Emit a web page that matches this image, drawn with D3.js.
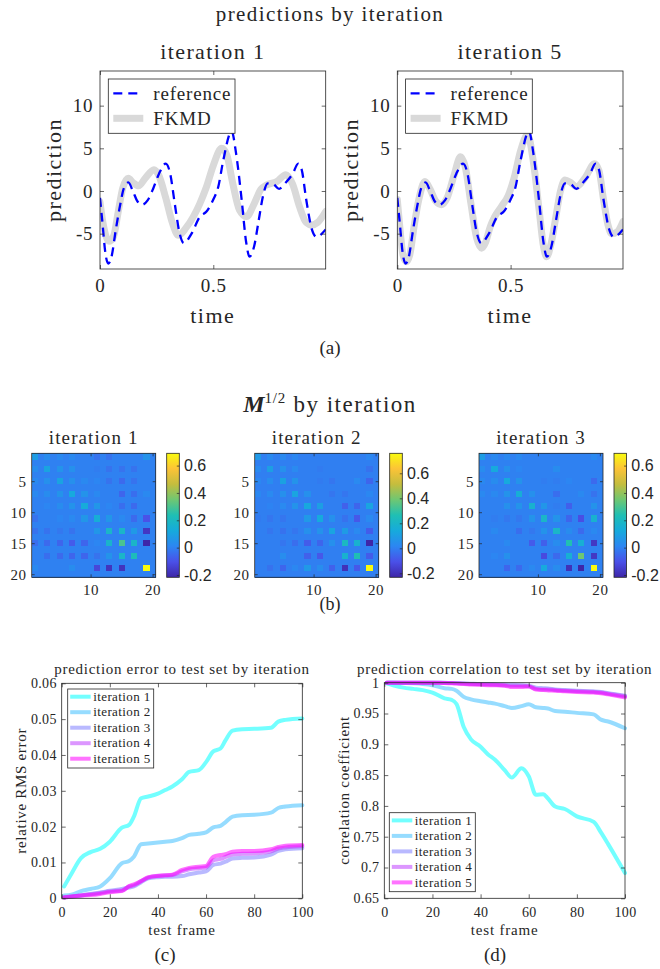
<!DOCTYPE html>
<html>
<head>
<meta charset="utf-8">
<script src="https://cdn.jsdelivr.net/npm/d3@7"></script>
<style>
  body { margin: 0; background: #fff; }
</style>
</head>
<body>
<svg id="fig" width="660" height="969"></svg>
<script>
// ---------- data ----------

// (a) predictions: reference signal and FKMD fits
var refTime  = [0,0.01,0.025,0.037,0.05,0.07,0.09,0.105,0.125,0.145,0.165,0.186,0.21,0.235,0.26,0.29,0.31,0.33,0.35,0.37,0.404,0.441,0.47,0.5,0.522,0.544,0.581,0.6,0.625,0.645,0.66,0.68,0.7,0.72,0.74,0.765,0.79,0.82,0.85,0.875,0.89,0.91,0.935,0.956,0.975,0.996];
var refValue = [-0.8,-3.5,-7.5,-8.5,-7.8,-4.5,-1.5,0.3,1.0,0.0,-1.2,-1.6,-1.1,0.3,2.0,3.2,2.0,-1.5,-4.8,-6.1,-5.0,-3.0,-2.4,-1.0,0.5,3.6,7.0,4.5,-1.0,-6.0,-7.7,-6.5,-3.5,-0.5,0.9,0.8,0.25,1.0,2.0,3.2,2.5,-1.0,-4.5,-5.4,-5.1,-4.5];

var fkmd1Time  = [0,0.015,0.04,0.06,0.08,0.10,0.125,0.145,0.17,0.20,0.238,0.26,0.29,0.32,0.346,0.38,0.412,0.44,0.47,0.50,0.537,0.56,0.585,0.615,0.647,0.68,0.71,0.735,0.78,0.82,0.85,0.88,0.91,0.934,0.96,0.996];
var fkmd1Value = [-1.3,-4.0,-5.9,-5.3,-2.5,0.3,1.5,1.0,0.6,1.5,2.5,1.8,-0.8,-3.8,-5.2,-4.3,-3.0,-1.5,0.5,3.0,5.0,4.2,1.0,-2.2,-3.0,-1.5,0.2,0.7,1.1,1.9,0.8,-1.8,-3.7,-4.0,-3.7,-2.4];

var fkmd5Time  = [0,0.012,0.025,0.04,0.055,0.075,0.095,0.122,0.145,0.17,0.196,0.22,0.25,0.279,0.30,0.325,0.35,0.372,0.39,0.41,0.43,0.46,0.49,0.515,0.545,0.575,0.60,0.625,0.645,0.659,0.68,0.70,0.72,0.74,0.765,0.79,0.83,0.87,0.89,0.91,0.93,0.946,0.97,0.996];
var fkmd5Value = [-1.0,-4.5,-7.5,-8.3,-7.5,-4.0,-1.0,1.1,0.2,-1.2,-1.6,-0.8,1.8,4.0,2.8,-1.5,-5.5,-6.7,-6.0,-4.2,-3.0,-1.8,-0.5,1.5,4.8,6.6,3.5,-2.0,-6.5,-7.7,-6.0,-3.0,0.0,1.3,1.0,0.5,1.6,3.2,2.4,-1.0,-4.0,-5.0,-4.8,-3.6];

var predXTicks = [0, 0.5];
var predYTicks = [-5, 0, 5, 10];

// (b) M^{1/2}: entries at odd indices 1,3,...,19 (even rows/cols are ~0)
var heat1 = [
  [ 0.08, 0.03, 0.02, 0.02, 0.00,-0.03,-0.03, 0.00, 0.00, 0.05],
  [ 0.03, 0.10, 0.05, 0.04, 0.00,-0.01,-0.03,-0.03,-0.03, 0.00],
  [ 0.02, 0.04, 0.10, 0.04, 0.02, 0.01,-0.03,-0.05,-0.03, 0.00],
  [ 0.02, 0.03, 0.05, 0.12, 0.05, 0.02, 0.00,-0.06,-0.04, 0.02],
  [ 0.00, 0.01, 0.03, 0.05, 0.13, 0.06, 0.01,-0.04,-0.05, 0.00],
  [-0.03, 0.00, 0.01, 0.02, 0.06, 0.14, 0.06, 0.02,-0.05,-0.10],
  [-0.03,-0.03,-0.02,-0.03, 0.00, 0.06, 0.18, 0.18, 0.07,-0.17],
  [-0.04,-0.05,-0.06,-0.08,-0.06, 0.01, 0.17, 0.30, 0.18,-0.217],
  [ 0.00,-0.04,-0.05,-0.06,-0.06,-0.03, 0.05, 0.18, 0.22, 0.00],
  [ 0.02, 0.00, 0.00, 0.03, 0.00,-0.13,-0.18,-0.18, 0.00, 0.69]
];
var heat2 = [
  [ 0.08, 0.03, 0.03, 0.02, 0.00, 0.00, 0.00, 0.00, 0.00, 0.02],
  [ 0.03, 0.10, 0.05, 0.03, 0.00,-0.01, 0.00, 0.00, 0.00,-0.03],
  [ 0.02, 0.04, 0.11, 0.06, 0.00,-0.01,-0.02, 0.00, 0.03,-0.06],
  [ 0.02, 0.03, 0.05, 0.12, 0.05, 0.00,-0.02,-0.02, 0.00, 0.02],
  [ 0.00, 0.01, 0.03, 0.06, 0.13, 0.10, 0.00,-0.07,-0.06, 0.12],
  [-0.01,-0.02,-0.02, 0.00, 0.08, 0.14, 0.05,-0.03,-0.09, 0.03],
  [ 0.00,-0.02,-0.03,-0.02, 0.05, 0.06, 0.12, 0.09, 0.03,-0.08],
  [ 0.00, 0.00,-0.02,-0.04,-0.08,-0.06, 0.05, 0.22, 0.18,-0.232],
  [ 0.00, 0.00, 0.04, 0.00,-0.07,-0.09, 0.00, 0.18, 0.26,-0.08],
  [ 0.00,-0.03,-0.06, 0.02, 0.08, 0.04,-0.07,-0.20,-0.09, 0.76]
];
var heat3 = [
  [ 0.08, 0.02, 0.02, 0.02, 0.00, 0.00, 0.00, 0.00, 0.00, 0.02],
  [ 0.03, 0.12, 0.04, 0.01, 0.00, 0.00, 0.03, 0.00, 0.00, 0.00],
  [ 0.02, 0.03, 0.12, 0.05, 0.00,-0.01,-0.01, 0.01, 0.00,-0.05],
  [ 0.02, 0.02, 0.05, 0.14, 0.04, 0.00,-0.04, 0.00, 0.02,-0.03],
  [ 0.00, 0.00, 0.04, 0.05, 0.16, 0.06,-0.01,-0.07, 0.00, 0.05],
  [ 0.00,-0.01,-0.02,-0.02, 0.05, 0.18, 0.05,-0.06,-0.11, 0.16],
  [ 0.00, 0.02, 0.00,-0.04,-0.02, 0.05, 0.18, 0.03,-0.05, 0.02],
  [ 0.00, 0.00, 0.02, 0.00,-0.08,-0.07, 0.03, 0.24, 0.15,-0.17],
  [ 0.00, 0.01, 0.04, 0.00, 0.00,-0.12,-0.05, 0.15, 0.35,-0.17],
  [ 0.00, 0.00,-0.06,-0.05, 0.02, 0.12, 0.03,-0.19,-0.217, 0.69]
];
var heatYTicks = [5, 10, 15, 20];
var heatXTicks = [10, 20];
var colorbarTicks = [-0.2, 0, 0.2, 0.4, 0.6];

// (c) and (d): error and correlation per test frame
var frames = [1,4,8,12,16,20,25,28,30,33,36,40,43,46,50,53,57,60,63,66,68,71,75,80,87,90,93,100];
var errIter1 = [0.0033,0.0068,0.0112,0.0129,0.0138,0.0158,0.0197,0.0205,0.0228,0.0279,0.0284,0.0292,0.0302,0.0312,0.0332,0.0353,0.0358,0.0380,0.0410,0.0418,0.0440,0.0468,0.0472,0.0473,0.0476,0.0493,0.0498,0.0502];
var errIter2 = [0.0008,0.0010,0.0020,0.0026,0.0033,0.0056,0.0098,0.0104,0.0116,0.0151,0.0153,0.0156,0.0158,0.0160,0.0168,0.0177,0.0180,0.0184,0.0198,0.0202,0.0212,0.0228,0.0232,0.0233,0.0239,0.0252,0.0256,0.0260];
var errIter3 = [0.0002,0.0004,0.0008,0.0012,0.0016,0.0021,0.0026,0.0030,0.0033,0.0045,0.0056,0.0059,0.0060,0.0060,0.0062,0.0067,0.0072,0.0075,0.0093,0.0097,0.0102,0.0111,0.0113,0.0114,0.0122,0.0132,0.0137,0.0140];
var errIter4 = [0.0003,0.0005,0.0008,0.0011,0.0015,0.0019,0.0022,0.0033,0.0036,0.0048,0.0058,0.0063,0.0064,0.0065,0.0075,0.0081,0.0084,0.0086,0.0106,0.0110,0.0115,0.0122,0.0124,0.0125,0.0131,0.0139,0.0142,0.0145];
var errIter5 = [0.0002,0.0005,0.0008,0.0009,0.0012,0.0017,0.0020,0.0034,0.0039,0.0048,0.0059,0.0062,0.0064,0.0066,0.0079,0.0085,0.0088,0.0090,0.0116,0.0121,0.0123,0.0130,0.0132,0.0132,0.0137,0.0143,0.0147,0.0149];

var corrIter1 = [0.999,0.9955,0.992,0.990,0.988,0.984,0.9746,0.972,0.9654,0.928,0.908,0.896,0.884,0.875,0.858,0.846,0.861,0.848,0.818,0.819,0.812,0.799,0.795,0.783,0.774,0.757,0.738,0.691];
var corrIter2 = [1.0,1.0,0.9995,0.999,0.998,0.996,0.991,0.990,0.987,0.977,0.973,0.970,0.968,0.966,0.962,0.959,0.962,0.965,0.960,0.959,0.958,0.954,0.953,0.951,0.9486,0.940,0.937,0.926];
var corrIter3 = [1,1,1,1,1,1,0.9998,0.9996,0.9995,0.999,0.9985,0.998,0.998,0.9975,0.997,0.9965,0.996,0.995,0.992,0.991,0.9905,0.989,0.988,0.987,0.986,0.985,0.983,0.979];
var corrIter4 = [1,1,1,1,1,1,0.9997,0.9995,0.9993,0.9985,0.998,0.9975,0.997,0.9965,0.996,0.995,0.995,0.994,0.990,0.989,0.989,0.988,0.987,0.986,0.985,0.984,0.982,0.978];
var corrIter5 = [1,1,1,1,1,1,0.9995,0.999,0.9985,0.998,0.997,0.9965,0.996,0.9958,0.995,0.993,0.993,0.994,0.989,0.988,0.9875,0.987,0.986,0.985,0.984,0.983,0.981,0.976];

var iterNames = ['iteration 1', 'iteration 2', 'iteration 3', 'iteration 4', 'iteration 5'];
var frameTicks = [0, 20, 40, 60, 80, 100];
var errTicks = [0, 0.01, 0.02, 0.03, 0.04, 0.05, 0.06];
var corrTicks = [0.65, 0.7, 0.75, 0.8, 0.85, 0.9, 0.95, 1];

// ---------- style ----------
var SERIF = '"Liberation Serif","Times New Roman",serif';
var SANS = '"Liberation Sans",Arial,sans-serif';
var INK = '#262626';
var coolColors = ['#00ffff', '#40bfff', '#8080ff', '#bf40ff', '#ff00ff'];
var parula = ['#3e26a8', '#4a50e8', '#2c86f2', '#16aadc', '#1fbfb4', '#6ec773', '#c4bd3e', '#fcc337', '#f9fb0e'];

var svg = d3.select('#fig');

function text(g, x, y, str, size, opts)
{
	opts = opts || {};
	var t = g.append('text')
		.attr('x', x)
		.attr('y', y)
		.attr('fill', INK)
		.attr('font-family', opts.font || SERIF)
		.attr('font-size', size)
		.attr('text-anchor', opts.anchor || 'middle')
		.style('letter-spacing', (opts.ls || 0) + 'px')
		.text(str);
	if (opts.rotate) t.attr('transform', 'rotate(-90,' + x + ',' + y + ')');
	if (opts.dy) t.attr('dy', opts.dy);
	return t;
}

function styleAxis(sel, size, font, ls)
{
	sel.attr('font-size', null).attr('font-family', null);
	sel.select('.domain').remove();
	sel.selectAll('.tick line').attr('stroke', INK).attr('stroke-width', 0.7);
	sel.selectAll('.tick text')
		.attr('fill', INK)
		.attr('font-family', font)
		.attr('font-size', size)
		.style('letter-spacing', ls + 'px');
}

// box axes, ticks pointing inwards on all four sides, labels left and bottom
function boxAxes(g, x, y, o)
{
	var xr = x.range(), yr = y.range();
	var left = Math.min(xr[0], xr[1]), right = Math.max(xr[0], xr[1]);
	var top = Math.min(yr[0], yr[1]), bottom = Math.max(yr[0], yr[1]);
	var blank = function(){ return ''; };

	g.append('g').attr('transform', 'translate(0,' + bottom + ')')
		.call(d3.axisBottom(x).tickValues(o.xTicks).tickFormat(o.xFormat || String)
			.tickSizeInner(-o.tick).tickSizeOuter(0).tickPadding(o.padX))
		.call(styleAxis, o.size, o.font || SERIF, o.ls || 0);
	g.append('g').attr('transform', 'translate(0,' + top + ')')
		.call(d3.axisTop(x).tickValues(o.xTicks).tickFormat(blank).tickSizeInner(-o.tick).tickSizeOuter(0))
		.call(styleAxis, o.size, SERIF, 0);
	g.append('g').attr('transform', 'translate(' + left + ',0)')
		.call(d3.axisLeft(y).tickValues(o.yTicks).tickFormat(o.yFormat || String)
			.tickSizeInner(-o.tick).tickSizeOuter(0).tickPadding(o.padY))
		.call(styleAxis, o.size, o.font || SERIF, o.ls || 0);
	g.append('g').attr('transform', 'translate(' + right + ',0)')
		.call(d3.axisRight(y).tickValues(o.yTicks).tickFormat(blank).tickSizeInner(-o.tick).tickSizeOuter(0))
		.call(styleAxis, o.size, SERIF, 0);

	g.append('rect')
		.attr('x', left).attr('y', top)
		.attr('width', right - left).attr('height', bottom - top)
		.attr('fill', 'none').attr('stroke', INK).attr('stroke-width', 0.8);
}

// ---------- (a) predictions by iteration ----------
text(svg, 330, 21, 'predictions by iteration', 21, {ls: 1.4});

function predictionPanel(x0, id, title, fkmdTime, fkmdValue)
{
	var g = svg.append('g');
	var x = d3.scaleLinear().domain([0, 0.996]).range([x0, x0 + 225.7]);
	var y = d3.scaleLinear().domain([-9.14, 14.06]).range([269, 71]);

	g.append('clipPath').attr('id', id)
		.append('rect').attr('x', x0).attr('y', 71).attr('width', 225.7).attr('height', 198);

	var line = d3.line().curve(d3.curveMonotoneX)
		.x(function(d){ return x(d[0]); })
		.y(function(d){ return y(d[1]); });

	var plot = g.append('g').attr('clip-path', 'url(#' + id + ')');

	plot.append('path')
		.datum(d3.zip(fkmdTime, fkmdValue))
		.attr('d', line)
		.attr('fill', 'none')
		.attr('stroke', '#d9d9d9')
		.attr('stroke-width', 7)
		.attr('stroke-linejoin', 'round')
		.attr('stroke-linecap', 'round');

	plot.append('path')
		.datum(d3.zip(refTime, refValue))
		.attr('d', line)
		.attr('fill', 'none')
		.attr('stroke', '#0000ff')
		.attr('stroke-width', 2.3)
		.attr('stroke-dasharray', '9,6');

	boxAxes(g, x, y, {xTicks: predXTicks, yTicks: predYTicks, tick: 4, padX: 10, padY: 6.7, size: 19, ls: 0.8});

	text(g, x0 + 112.8, 59, title, 22, {ls: 1.4});
	text(g, x0 + 112.8, 323, 'time', 22, {ls: 1.5});
	text(g, x0 - 39, 170, 'prediction', 22, {ls: 1.5, rotate: true});

	// legend
	var lg = g.append('g').attr('transform', 'translate(' + (x0 + 8.3) + ',79)');
	lg.append('rect').attr('width', 126.7).attr('height', 54.3)
		.attr('fill', '#fff').attr('stroke', INK).attr('stroke-width', 0.8);
	lg.append('line').attr('x1', 5).attr('x2', 35).attr('y1', 14.3).attr('y2', 14.3)
		.attr('stroke', '#0000ff').attr('stroke-width', 2.3).attr('stroke-dasharray', '9,6');
	lg.append('line').attr('x1', 5).attr('x2', 35).attr('y1', 39.3).attr('y2', 39.3)
		.attr('stroke', '#d9d9d9').attr('stroke-width', 7);
	text(lg, 45, 14.3, 'reference', 19, {anchor: 'start', ls: 0.8, dy: '0.33em'});
	text(lg, 45, 39.3, 'FKMD', 19, {anchor: 'start', ls: 0.8, dy: '0.33em'});
}

predictionPanel(100, 'clipA1', 'iteration 1', fkmd1Time, fkmd1Value);
predictionPanel(397.3, 'clipA5', 'iteration 5', fkmd5Time, fkmd5Value);
text(svg, 330, 354, '(a)', 19, {font: '"Liberation Serif",serif'});

// ---------- (b) M^{1/2} by iteration ----------
var mTitle = svg.append('text')
	.attr('x', 330).attr('y', 412)
	.attr('text-anchor', 'middle')
	.attr('fill', INK)
	.attr('font-family', SERIF);
mTitle.append('tspan').attr('font-size', 24).attr('font-weight', 'bold').attr('font-style', 'italic').text('M');
mTitle.append('tspan').attr('font-size', 15).attr('dy', -9).style('letter-spacing', '0.8px').text('1/2');
mTitle.append('tspan').attr('font-size', 23).attr('dy', 9).style('letter-spacing', '1.5px').text(' by iteration');

var gradCount = 0;

function heatPanel(x0, title, matrix)
{
	var size = 124, y0 = 453.3;
	var g = svg.append('g');
	var xs = d3.scaleLinear().domain([0.5, 20.5]).range([x0, x0 + size]);
	var ys = d3.scaleLinear().domain([0.5, 20.5]).range([y0, y0 + size]);

	var cells = [];
	d3.range(1, 21).forEach(function(r)
	{
		d3.range(1, 21).forEach(function(c)
		{
			var v = (r % 2 === 1 && c % 2 === 1) ? matrix[(r - 1) / 2][(c - 1) / 2] : 0;
			cells.push({r: r, c: c, v: v});
		});
	});

	var ext = d3.extent(cells, function(d){ return d.v; });
	var stops = parula.map(function(_, i){ return ext[0] + i / (parula.length - 1) * (ext[1] - ext[0]); });
	var color = d3.scaleLinear().domain(stops).range(parula).interpolate(d3.interpolateRgb);

	g.selectAll('rect.cell').data(cells)
		.enter()
		.append('rect')
		.attr('class', 'cell')
		.attr('x', function(d){ return xs(d.c - 0.5); })
		.attr('y', function(d){ return ys(d.r - 0.5); })
		.attr('width', xs(1.5) - xs(0.5) + 0.3)
		.attr('height', ys(1.5) - ys(0.5) + 0.3)
		.attr('fill', function(d){ return color(d.v); })
		.attr('shape-rendering', 'crispEdges');

	boxAxes(g, xs, ys, {xTicks: heatXTicks, yTicks: heatYTicks, tick: 3, padX: 7, padY: 5, size: 15, ls: 0.6});

	text(g, x0 + size / 2, 444, title, 19, {ls: 1.1});

	// colorbar
	var cbX = x0 + 135, cbW = 12.6;
	var gid = 'parulaGrad' + (gradCount++);
	var grad = svg.append('defs').append('linearGradient')
		.attr('id', gid).attr('x1', 0).attr('x2', 0).attr('y1', 1).attr('y2', 0);
	grad.selectAll('stop').data(parula)
		.enter()
		.append('stop')
		.attr('offset', function(d, i){ return i / (parula.length - 1); })
		.attr('stop-color', function(d){ return d; });

	var cb = d3.scaleLinear().domain(ext).range([y0 + size, y0]);
	g.append('rect').attr('x', cbX).attr('y', y0).attr('width', cbW).attr('height', size)
		.attr('fill', 'url(#' + gid + ')');
	g.append('g').attr('transform', 'translate(' + (cbX + cbW) + ',0)')
		.call(d3.axisRight(cb).tickValues(colorbarTicks).tickFormat(String)
			.tickSizeInner(-2.5).tickSizeOuter(0).tickPadding(4.7))
		.call(styleAxis, 16, SANS, 0);
	g.append('rect').attr('x', cbX).attr('y', y0).attr('width', cbW).attr('height', size)
		.attr('fill', 'none').attr('stroke', INK).attr('stroke-width', 0.8);
}

heatPanel(31.7, 'iteration 1', heat1);
heatPanel(254.7, 'iteration 2', heat2);
heatPanel(479, 'iteration 3', heat3);
text(svg, 330, 610, '(b)', 18, {font: '"Liberation Serif",serif'});

// ---------- (c) and (d) ----------
function metricPanel(x0, x1, y0, y1, yDomain, yTicks, title, ylabel, series, legendPos)
{
	var g = svg.append('g');
	var x = d3.scaleLinear().domain([0, 100]).range([x0, x1]);
	var y = d3.scaleLinear().domain(yDomain).range([y1, y0]);

	var line = d3.line().curve(d3.curveMonotoneX)
		.x(function(d){ return x(d[0]); })
		.y(function(d){ return y(d[1]); });

	series.forEach(function(values, i)
	{
		g.append('path')
			.datum(d3.zip(frames, values))
			.attr('d', line)
			.attr('fill', 'none')
			.attr('stroke', coolColors[i])
			.attr('stroke-opacity', 0.55)
			.attr('stroke-width', 4)
			.attr('stroke-linejoin', 'round')
			.attr('stroke-linecap', 'round');
	});

	boxAxes(g, x, y, {xTicks: frameTicks, yTicks: yTicks, tick: 4, padX: 8.7, padY: 5, size: 14, ls: 0.3});

	var mid = (x0 + x1) / 2;
	text(g, mid, 673.5, title, 15, {ls: 0.7});
	text(g, mid, 935, 'test frame', 15, {ls: 0.8});
	text(g, x0 - 35.5, (y0 + y1) / 2, ylabel, 15, {ls: 0.7, rotate: true});

	var lg = g.append('g').attr('transform', 'translate(' + legendPos[0] + ',' + legendPos[1] + ')');
	lg.append('rect').attr('width', 86).attr('height', 79)
		.attr('fill', '#fff').attr('stroke', INK).attr('stroke-width', 0.8);
	iterNames.forEach(function(name, i)
	{
		var ly = 7.7 + i * 15.5;
		lg.append('line').attr('x1', 2.5).attr('x2', 23).attr('y1', ly).attr('y2', ly)
			.attr('stroke', coolColors[i]).attr('stroke-opacity', 0.55).attr('stroke-width', 4);
		text(lg, 25.5, ly, name, 13, {anchor: 'start', ls: 0.4, dy: '0.33em'});
	});
}

metricPanel(61.7, 302.3, 683.3, 898.3, [0, 0.06], errTicks,
	'prediction error to test set by iteration', 'relative RMS error',
	[errIter1, errIter2, errIter3, errIter4, errIter5], [67.7, 689]);

metricPanel(384.3, 625, 682.7, 898.3, [0.65, 1], corrTicks,
	'prediction correlation to test set by iteration', 'correlation coefficient',
	[corrIter1, corrIter2, corrIter3, corrIter4, corrIter5], [389.3, 812.7]);

text(svg, 165, 961, '(c)', 19, {font: '"Liberation Serif",serif'});
text(svg, 495, 961, '(d)', 19, {font: '"Liberation Serif",serif'});
</script>
</body>
</html>
